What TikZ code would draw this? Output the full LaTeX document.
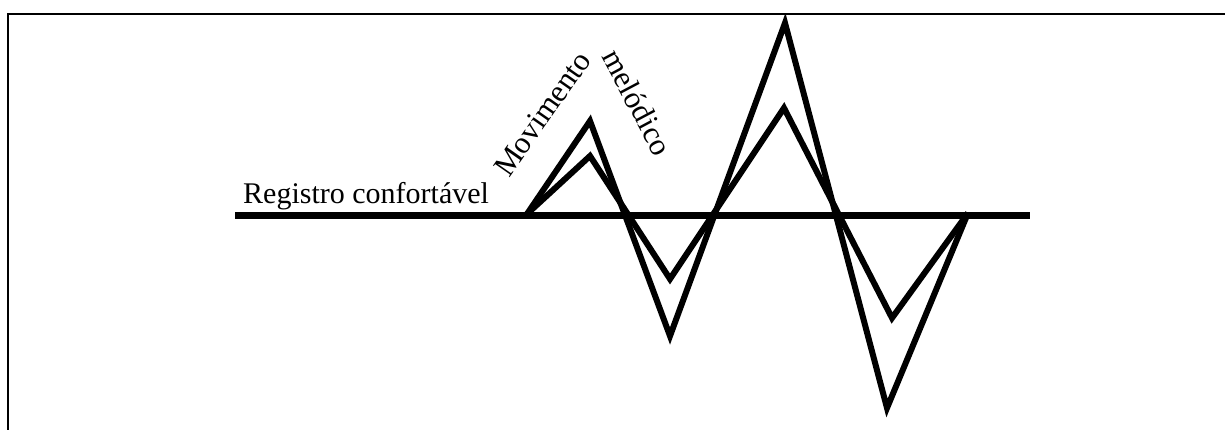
\documentclass[tikz,border=0pt]{standalone}
\usepackage{fontspec}
\setmainfont{Liberation Serif}
\begin{document}
\begin{tikzpicture}[x=1pt,y=-1pt,
  frameline/.style={line width=2.6pt},
  baseline line/.style={line width=7pt},
  contour/.style={line width=6pt, line join=miter},
  label/.style={font=\fontsize{30}{36}\selectfont, inner sep=0pt},
  rlabel/.style={font=\fontsize{31}{37}\selectfont, inner sep=0pt}]
\useasboundingbox (0,0) rectangle (1225,430);
% frame (left and top edges)
\coordinate (fbl) at (8,430);
\coordinate (ftl) at (8,14);
\coordinate (ftr) at (1225,14);
\draw[frameline] (fbl) -- (ftl) -- (ftr);
% comfortable register line
\coordinate (rl) at (235,216);
\coordinate (rr) at (1030,216);
\draw[baseline line] (rl) -- (rr);
% contour points
\coordinate (s) at (527,214);
\coordinate (e) at (968,213);
\coordinate (o1) at (590,121);
\coordinate (o2) at (670,336);
\coordinate (o3) at (785,23);
\coordinate (o4) at (887,408);
\coordinate (i1) at (590,156);
\coordinate (i2) at (670,279);
\coordinate (i3) at (784,108);
\coordinate (i4) at (892,318);
\draw[contour] (s) -- (o1) -- (o2) -- (o3) -- (o4) -- (e);
\draw[contour] (s) -- (i1) -- (i2) -- (i3) -- (i4) -- (e);
% labels
\node[label, anchor=base west] (reg) at (243,204) {Registro confortável};
\node[rlabel, anchor=base west, rotate=55] (mov) at (509,179) {Movimento};
\node[rlabel, anchor=base west, rotate=-62] (mel) at (601,56) {melódico};
\end{tikzpicture}
\end{document}
